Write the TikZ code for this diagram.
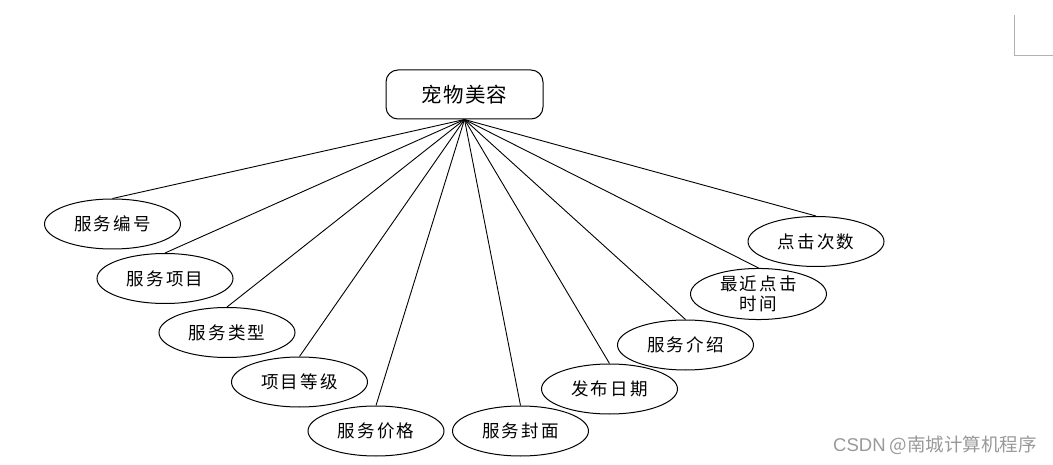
\documentclass[tikz,border=0pt]{standalone}
\usepackage{fontspec}
\setmainfont{Noto Sans CJK SC}
\newfontfamily\cjk[LetterSpace=12]{Noto Sans CJK SC}
\newfontfamily\cjkt[LetterSpace=6]{Noto Sans CJK SC}
\newfontfamily\wm{Liberation Sans}
\usetikzlibrary{shapes.geometric}
\begin{document}
\begin{tikzpicture}[x=1pt,y=-1pt,
  attr/.style={draw,ellipse,line width=1pt,minimum width=136pt,minimum height=50pt,inner sep=0pt,
    font=\cjk\fontsize{17.5}{22}\selectfont,align=center},
  ent/.style={draw,rounded corners=12pt,line width=1pt,minimum width=157pt,minimum height=49pt,inner sep=0pt,
    font=\cjkt\fontsize{20.5}{24}\selectfont},
  link/.style={line width=0.9pt}]
\useasboundingbox (0,0) rectangle (1053,465);
\node[ent] (top) at (464.5,94.5) {宠物美容};
\node[attr] (a1) at (112.5,224) {服务编号};
\node[attr] (a2) at (165,278.5) {服务项目};
\node[attr] (a3) at (227,332.5) {服务类型};
\node[attr] (a4) at (299.5,382) {项目等级};
\node[attr] (a5) at (376,431) {服务价格};
\node[attr] (a6) at (520.5,431) {服务封面};
\node[attr] (a7) at (609.5,389) {发布日期};
\node[attr] (a8) at (685.5,345) {服务介绍};
\node[attr] (a9) at (758.5,294) {最近点击\\[-2pt]时间};
\node[attr] (a10) at (816,241.5) {点击次数};
\foreach \i in {1,...,10} \draw[link] (top.south) -- (a\i.north);
\coordinate (c1) at (1014,15);
\coordinate (c2) at (1014,55);
\coordinate (c3) at (1053,55);
\draw[gray!60,line width=0.8pt] (c1) -- (c2) -- (c3);
\node[text=gray!80,anchor=east,font=\fontsize{18.5}{22}\selectfont,inner sep=0pt] (wm) at (1037,445) {{\wm CSDN} @南城计算机程序};
\end{tikzpicture}
\end{document}
